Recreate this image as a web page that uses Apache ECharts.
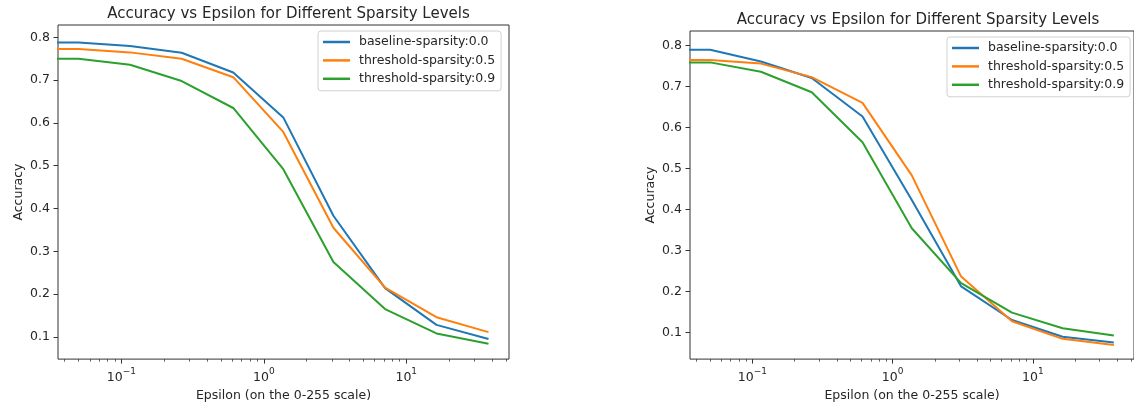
<!DOCTYPE html>
<html><head><meta charset="utf-8">
<script src="https://cdn.jsdelivr.net/npm/echarts@6/dist/echarts.min.js"></script>
<style>html,body{margin:0;padding:0;background:#fff}#c{width:1134px;height:407px}</style>
</head><body><div id="c"></div>
<script>
// ---- data ----
const epsilon = [0, 0.05, 0.115, 0.265, 0.61, 1.37, 3.08, 7.1, 16.3, 37.8];
const seriesNames = ['baseline-sparsity:0.0', 'threshold-sparsity:0.5', 'threshold-sparsity:0.9'];
const leftBaseline  = [0.788, 0.788, 0.780, 0.764, 0.718, 0.613, 0.383, 0.214, 0.128, 0.095];
const leftThresh05  = [0.773, 0.773, 0.765, 0.750, 0.707, 0.579, 0.355, 0.215, 0.146, 0.111];
const leftThresh09  = [0.750, 0.750, 0.736, 0.698, 0.635, 0.492, 0.275, 0.165, 0.108, 0.084];
const rightBaseline = [0.790, 0.790, 0.761, 0.721, 0.627, 0.423, 0.212, 0.130, 0.089, 0.075];
const rightThresh05 = [0.765, 0.765, 0.756, 0.723, 0.660, 0.483, 0.236, 0.127, 0.084, 0.069];
const rightThresh09 = [0.759, 0.759, 0.736, 0.686, 0.564, 0.354, 0.220, 0.148, 0.110, 0.092];
const yTicks = [0.1, 0.2, 0.3, 0.4, 0.5, 0.6, 0.7, 0.8];
const xMajorExponents = [-1, 0, 1];
const xMinorValues = [0.04, 0.05, 0.06, 0.07, 0.08, 0.09, 0.2, 0.3, 0.4, 0.5, 0.6, 0.7, 0.8, 0.9,
                      2, 3, 4, 5, 6, 7, 8, 9, 20, 30, 40, 50];
const titleText = 'Accuracy vs Epsilon for Different Sparsity Levels';
const xName = 'Epsilon (on the 0-255 scale)';
const yName = 'Accuracy';

// ---- styling / layout ----
const colors = ['#1f77b4', '#ff7f0e', '#2ca02c'];
const FONT = 'DejaVu Sans';
const TXT = '#262626';
const panels = [
  {grid: {left: 58, top: 25, width: 451, height: 336}, yMin: 0.048, yMax: 0.829,
   title: {x: 283.5, top: 1.5}, legend: {left: 318, top: 31},
   values: [leftBaseline, leftThresh05, leftThresh09]},
  {grid: {left: 690, top: 31, width: 446, height: 331}, yMin: 0.0346, yMax: 0.8356,
   title: {x: 913, top: 7.5}, legend: {left: 947, top: 37},
   values: [rightBaseline, rightThresh05, rightThresh09]}
];

// matplotlib-like autoscale on the log axis (zero is clipped, 5% margins)
const positive = epsilon.filter(v => v > 0);
const lo = Math.log10(Math.min(...positive));
const hi = Math.log10(Math.max(...positive));
const pad = 0.05 * (hi - lo);
const logMin = lo - pad, logMax = hi + pad;
const CLIP_TINY = 1e-9; // eps = 0 clipped like matplotlib's log scale

const option = {
  animation: false,
  backgroundColor: '#fff',
  textStyle: {fontFamily: FONT},
  title: [], legend: [], grid: [], xAxis: [], yAxis: [], series: []
};

panels.forEach((p, gi) => {
  option.grid.push(Object.assign({show: true, borderColor: '#333', borderWidth: 1,
    backgroundColor: 'transparent', containLabel: false}, p.grid));
  option.title.push({
    text: titleText, left: p.title.x, top: p.title.top, textAlign: 'center',
    textStyle: {fontFamily: FONT, fontSize: 15, fontWeight: 'normal', color: TXT}
  });
  option.legend.push({
    orient: 'vertical', left: p.legend.left, top: p.legend.top,
    data: seriesNames, icon: 'rect', itemWidth: 27, itemHeight: 2.5, itemGap: 2.4,
    padding: [3, 6, 4, 5], backgroundColor: 'rgba(255,255,255,0.8)',
    borderColor: '#d0d0d0', borderWidth: 1, borderRadius: 3, selectedMode: false,
    textStyle: {fontFamily: FONT, fontSize: 12.5, color: TXT, lineHeight: 16, padding: [0, 0, 0, 4]}
  });
  const base = option.xAxis.length;
  // data axis (log)
  option.xAxis.push({
    type: 'log', gridIndex: gi, position: 'bottom',
    min: Math.pow(10, logMin), max: Math.pow(10, logMax),
    axisLine: {show: false, onZero: false}, axisTick: {show: false}, axisLabel: {show: false}, splitLine: {show: false}
  });
  // major ticks and labels (aligned in log10 space)
  option.xAxis.push({
    type: 'value', gridIndex: gi, position: 'bottom', min: logMin, max: logMax,
    axisLine: {show: false, onZero: false}, splitLine: {show: false},
    axisTick: {show: true, customValues: xMajorExponents, length: 4.5, lineStyle: {color: '#333', width: 1}},
    axisLabel: {
      customValues: xMajorExponents, margin: 5,
      formatter: v => '{b|10}{s|' + (v < 0 ? '\u2212' + (-v) : v) + '}',
      rich: {
        b: {fontFamily: FONT, fontSize: 12.5, color: TXT, lineHeight: 20, verticalAlign: 'bottom'},
        s: {fontFamily: FONT, fontSize: 9, color: TXT, lineHeight: 20, verticalAlign: 'top', padding: [3, 0, 0, 0]}
      }
    },
    name: xName, nameLocation: 'middle', nameGap: 25,
    nameTextStyle: {fontFamily: FONT, fontSize: 12.5, color: TXT}
  });
  // minor ticks
  option.xAxis.push({
    type: 'value', gridIndex: gi, position: 'bottom', min: logMin, max: logMax,
    axisLine: {show: false, onZero: false}, splitLine: {show: false}, axisLabel: {show: false},
    axisTick: {show: true, customValues: xMinorValues.map(v => Math.log10(v)), length: 2.5,
      lineStyle: {color: '#333', width: 0.8}}
  });
  option.yAxis.push({
    type: 'value', gridIndex: gi, min: p.yMin, max: p.yMax, position: 'left',
    axisLine: {show: false, onZero: false}, splitLine: {show: false},
    axisTick: {show: true, customValues: yTicks, length: 4.5, lineStyle: {color: '#333', width: 1}},
    axisLabel: {customValues: yTicks, margin: 8, formatter: v => v.toFixed(1),
      fontFamily: FONT, fontSize: 12.5, color: TXT},
    name: yName, nameLocation: 'middle', nameGap: 33, nameRotate: 90,
    nameTextStyle: {fontFamily: FONT, fontSize: 12.5, color: TXT}
  });
  p.values.forEach((vals, si) => {
    option.series.push({
      type: 'line', name: seriesNames[si], xAxisIndex: base, yAxisIndex: gi,
      data: epsilon.map((e, i) => [e > 0 ? e : CLIP_TINY, vals[i]]),
      showSymbol: false, symbol: 'none', clip: true,
      lineStyle: {width: 2, color: colors[si]}, itemStyle: {color: colors[si]}
    });
  });
});

const chart = echarts.init(document.getElementById('c'), null, {renderer: 'canvas'});
chart.setOption(option);
</script></body></html>
